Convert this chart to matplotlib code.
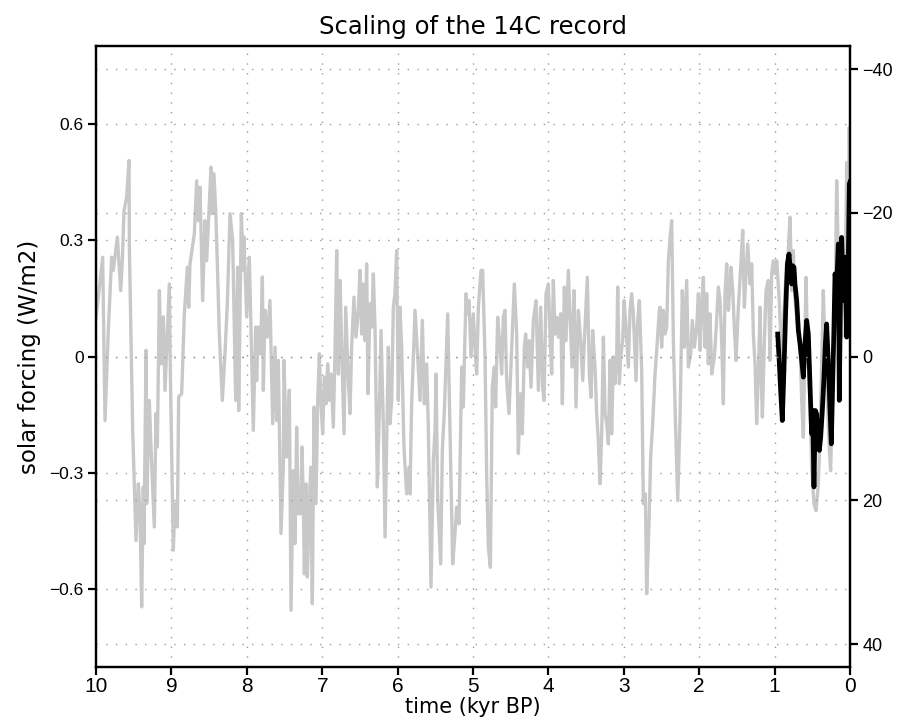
import matplotlib
matplotlib.use("Agg")
import matplotlib.pyplot as plt

# 14C based solar forcing (time in kyr BP, forcing in W/m2)
gray_kyr = [
    10.000, 9.912, 9.881, 9.837, 9.793, 9.771, 9.717, 9.673, 9.651, 9.629, 9.594, 9.563, 9.558,
    9.514, 9.470, 9.439, 9.417, 9.395, 9.373, 9.364, 9.337, 9.328, 9.293, 9.275, 9.227, 9.205,
    9.187, 9.160, 9.138, 9.107, 9.085, 9.054, 9.028, 9.015, 8.975, 8.953, 8.922, 8.904, 8.864,
    8.829, 8.789, 8.771, 8.754, 8.696, 8.665, 8.643, 8.621, 8.586, 8.555, 8.533, 8.475, 8.462,
    8.436, 8.409, 8.365, 8.325, 8.290, 8.259, 8.223, 8.188, 8.148, 8.122, 8.108, 8.073, 8.046,
    8.038, 8.002, 7.967, 7.914, 7.883, 7.870, 7.847, 7.817, 7.794, 7.781, 7.759, 7.728, 7.693,
    7.657, 7.626, 7.604, 7.582, 7.547, 7.516, 7.507, 7.472, 7.436,
    7.414, 7.383, 7.361, 7.339, 7.317, 7.286, 7.268, 7.251, 7.237, 7.215, 7.197, 7.171, 7.153,
    7.131, 7.109, 7.083, 7.060, 7.038, 7.021, 6.994, 6.972, 6.950, 6.928, 6.906, 6.884, 6.853,
    6.831, 6.808, 6.786, 6.764, 6.742, 6.711, 6.689, 6.654, 6.632, 6.610, 6.579, 6.552, 6.521,
    6.499, 6.477, 6.455, 6.433, 6.411, 6.393, 6.366, 6.344, 6.322, 6.300, 6.269, 6.243, 6.220,
    6.190, 6.167, 6.145, 6.123, 6.101, 6.079, 6.057, 6.035, 6.013, 5.991, 5.969, 5.946, 5.916,
    5.880, 5.845,
    5.836, 5.814, 5.769, 5.734, 5.703, 5.672, 5.646, 5.615, 5.593, 5.557, 5.526, 5.504, 5.491,
    5.469, 5.429, 5.407, 5.380, 5.336, 5.305, 5.270, 5.239, 5.217, 5.186, 5.150, 5.128, 5.115,
    5.093, 5.071, 5.053, 5.027, 4.996, 4.974, 4.952, 4.929, 4.894, 4.872, 4.841, 4.819, 4.797,
    4.770, 4.744, 4.717, 4.700, 4.673, 4.642, 4.620, 4.598, 4.576, 4.554, 4.523, 4.487, 4.452,
    4.421, 4.399, 4.372, 4.346, 4.319, 4.302, 4.275, 4.257, 4.231, 4.200,
    4.164, 4.133, 4.103, 4.076, 4.058, 4.032, 4.001, 3.979, 3.957, 3.935, 3.912, 3.890, 3.868,
    3.837, 3.815, 3.789, 3.767, 3.736, 3.714, 3.687, 3.660, 3.634, 3.603, 3.572, 3.545, 3.523,
    3.484, 3.457, 3.435, 3.413, 3.382, 3.360, 3.338, 3.316, 3.293, 3.271, 3.249, 3.227, 3.205,
    3.183, 3.161, 3.139, 3.117, 3.095, 3.081, 3.059, 3.042, 3.015, 2.997, 2.971, 2.940, 2.918,
    2.896, 2.874, 2.838, 2.821, 2.794, 2.763, 2.741, 2.714, 2.697, 2.666, 2.644, 2.617, 2.586,
    2.555, 2.529,
    2.520, 2.498, 2.475, 2.453, 2.431, 2.409, 2.387, 2.365, 2.343, 2.312, 2.285, 2.254, 2.224,
    2.197, 2.166, 2.144, 2.113, 2.091, 2.064, 2.033, 2.011, 1.989, 1.967, 1.945, 1.923, 1.901,
    1.879, 1.857, 1.834, 1.799, 1.777, 1.746, 1.724, 1.702, 1.680, 1.658, 1.636, 1.613, 1.578,
    1.556, 1.534, 1.512, 1.481, 1.450, 1.423, 1.401, 1.384, 1.357, 1.326, 1.304, 1.282, 1.260,
    1.238, 1.216, 1.193, 1.180, 1.162, 1.136, 1.114, 1.083, 1.061, 1.039, 1.017, 0.994, 0.972,
    0.941,
    0.906, 0.862, 0.818, 0.796, 0.774, 0.752, 0.730, 0.707, 0.663, 0.641, 0.619, 0.584, 0.562,
    0.531, 0.509, 0.478, 0.451, 0.420, 0.398, 0.354, 0.332, 0.301, 0.274, 0.257, 0.221, 0.199,
    0.177, 0.155, 0.133, 0.111, 0.089, 0.066, 0.044, 0.022, 0.010, 0.000,
]
gray_val = [
    0.100, 0.256, -0.165, 0.067, 0.256, 0.222, 0.308, 0.170, 0.247, 0.376, 0.411, 0.505, 0.282,
    -0.190, -0.474, -0.328, -0.405, -0.645, -0.336, -0.482, 0.016, -0.379, -0.113, -0.216, -0.439, -0.147,
    -0.233, 0.170, -0.019, 0.102, -0.087, 0.059, 0.187, -0.036, -0.499, -0.379, -0.439, -0.104, -0.096,
    0.110, 0.230, 0.127, 0.239, 0.316, 0.453, 0.350, 0.436, 0.144, 0.350, 0.247, 0.488, 0.368,
    0.471, 0.359, 0.059, -0.113, 0.007, 0.136, 0.368, 0.299, -0.113, 0.230, -0.139, 0.368, 0.222,
    0.308, 0.102, 0.256, -0.190, 0.076, -0.062, 0.076, 0.007, 0.205, -0.087, 0.119, 0.050, 0.144,
    -0.173, 0.024, -0.165, -0.010, -0.456, -0.285, -0.010, -0.259, -0.087,
    -0.654, -0.294, -0.482, -0.182, -0.405, -0.405, -0.233, -0.371, -0.560, -0.328, -0.568, -0.388, -0.285,
    -0.637, -0.130, -0.379, -0.113, 0.007, -0.105, -0.199, -0.053, -0.122, -0.019, -0.113, -0.045, -0.182,
    0.007, 0.273, -0.045, 0.196, 0.024, -0.199, 0.127, -0.062, -0.147, 0.024, 0.153, 0.050, 0.119,
    0.222, 0.058, 0.187, 0.041, 0.239, -0.096, 0.136, 0.076, 0.213, 0.076, -0.336, -0.147, 0.067,
    -0.173, -0.465, -0.216, 0.024, -0.173, -0.113, 0.127, 0.162, 0.273, -0.113, 0.127, 0.024, -0.233,
    -0.354, -0.285,
    -0.354, -0.122, 0.119, -0.001, -0.113, 0.093, -0.122, -0.019, -0.182, -0.594, -0.268, -0.190, -0.045,
    -0.362, -0.534, -0.242, -0.139, 0.110, -0.199, -0.534, -0.456, -0.388, -0.431, -0.027, -0.130, -0.010,
    0.162, 0.110, 0.144, -0.001, 0.110, 0.024, -0.045, 0.127, 0.222, 0.222, -0.001, -0.302, -0.491,
    -0.543, -0.079, -0.027, -0.130, 0.101, 0.024, -0.045, 0.101, 0.119, -0.062, -0.147, 0.024, 0.187,
    0.058, -0.250, -0.096, -0.199, 0.024, 0.058, -0.027, 0.041, -0.079, 0.093,
    0.144, -0.087, 0.127, -0.079, -0.113, 0.162, 0.187, 0.058, -0.045, 0.196, 0.058, 0.101, 0.050,
    0.110, -0.122, 0.179, 0.041, 0.222, 0.110, -0.027, 0.170, -0.130, 0.119, 0.041, -0.062, 0.041,
    0.204, -0.045, -0.105, 0.067, -0.027, -0.147, -0.216, -0.328, -0.199, 0.050, -0.147, -0.173, -0.225,
    -0.010, -0.199, -0.001, -0.070, -0.001, 0.179, -0.070, -0.001, 0.041, 0.144, 0.076, -0.027, 0.119,
    0.162, 0.110, -0.062, 0.076, 0.144, -0.036, -0.379, -0.354, -0.611, -0.431, -0.259, -0.173, -0.045,
    0.041, 0.119,
    0.127, 0.024, 0.119, 0.058, 0.076, 0.247, 0.307, 0.350, 0.041, -0.190, -0.371, -0.156, 0.170,
    0.024, 0.196, -0.027, 0.007, 0.093, 0.024, 0.076, 0.162, 0.016, 0.136, 0.204, 0.024, 0.162,
    -0.019, 0.110, -0.045, -0.001, 0.067, 0.179, 0.144, 0.041, -0.122, 0.162, 0.239, 0.119, 0.230,
    0.170, 0.076, -0.010, 0.127, 0.230, 0.325, 0.127, 0.196, 0.290, 0.187, 0.239, 0.058, -0.019,
    -0.173, -0.045, 0.127, -0.036, -0.156, 0.041, 0.170, 0.196, -0.010, 0.213, 0.247, 0.213, 0.247,
    0.153,
    -0.002, 0.170, 0.273, 0.359, 0.170, 0.273, 0.144, 0.101, 0.033, -0.113, -0.208, 0.204, 0.015,
    -0.113, -0.285, -0.379, -0.397, -0.328, -0.208, 0.170, 0.015, -0.105, -0.242, -0.294, -0.019, 0.101,
    0.453, 0.256, 0.170, 0.050, 0.273, 0.144, 0.500, 0.084, 0.590, 0.350,
]

# the last millennium, drawn in black on top
black_kyr = [
    0.959, 0.937, 0.920, 0.898, 0.875, 0.853, 0.831, 0.809, 0.787, 0.774, 0.760, 0.743, 0.730,
    0.707, 0.685, 0.663, 0.641, 0.619, 0.597, 0.575, 0.553, 0.531, 0.509, 0.495, 0.478, 0.460,
    0.442, 0.420, 0.407, 0.389, 0.367, 0.345, 0.327, 0.310, 0.287, 0.265, 0.248, 0.230, 0.212,
    0.199, 0.177, 0.155, 0.142, 0.124, 0.111, 0.088, 0.066, 0.044, 0.022, 0.009, 0.000,
]
black_val = [
    0.058, -0.019, -0.088, -0.165, -0.027, 0.118, 0.239, 0.264, 0.213, 0.187, 0.234, 0.230, 0.187,
    0.144, 0.067, 0.033, -0.010, -0.053, 0.033, 0.093, 0.058, -0.070, -0.199, -0.139, -0.336, -0.139,
    -0.148, -0.208, -0.242, -0.208, -0.139, -0.053, 0.033, 0.084, -0.019, -0.139, -0.225, -0.070, 0.084,
    0.213, 0.179, 0.290, -0.113, 0.204, 0.307, 0.144, 0.256, 0.050, 0.256, 0.445, 0.450,
]

time_ticks = list(range(10, -1, -1))
forcing_ticks = [-0.6, -0.3, 0, 0.3, 0.6]
forcing_labels = ["\u22120.6", "\u22120.3", "0", "0.3", "0.6"]
c14_ticks = [-40, -20, 0, 20, 40]
c14_labels = ["\u221240", "\u221220", "0", "20", "40"]

plt.rcParams["font.family"] = ["Liberation Sans", "DejaVu Sans"]

fig = plt.figure(figsize=(9.06, 7.24), dpi=100)
ax = fig.add_axes([0.1060, 0.0787, 0.8322, 0.8577])
ax2 = ax.twinx()

grid_kw = dict(color="#9a9a9a", linestyle=(0, (1, 6)), linewidth=1.0)

ax.plot(gray_kyr, gray_val, color="#c8c8c8", linewidth=2.4, zorder=2)
ax.plot(black_kyr, black_val, color="black", linewidth=3.4, zorder=3)

ax.set_xlim(10, 0)
ax.set_ylim(-0.8, 0.8)
ax.set_xticks(time_ticks)
ax.set_xticklabels([str(t) for t in time_ticks])
ax.set_yticks(forcing_ticks)
ax.set_yticklabels(forcing_labels)
ax.grid(True, **grid_kw)

ax2.set_ylim(43.2, -43.2)
ax2.set_yticks(c14_ticks)
ax2.set_yticklabels(c14_labels)
ax2.grid(True, axis="y", **grid_kw)

for a in (ax, ax2):
    for sp in a.spines.values():
        sp.set_linewidth(1.6)
    a.tick_params(direction="out", length=6, width=1.6, labelsize=12.5, pad=3)
ax.tick_params(axis="x", labelsize=15, pad=1)
ax2.tick_params(axis="y", labelsize=13)

label_font = ["DejaVu Sans"]
ax.set_title("Scaling of the 14C record", fontsize=17.5, pad=9, family=label_font)
ax.set_xlabel("time (kyr BP)", fontsize=15, labelpad=1, family=label_font)
ax.set_ylabel("solar forcing (W/m2)", fontsize=16.5, labelpad=6, family=label_font)

fig.savefig("out.png", dpi=100)
